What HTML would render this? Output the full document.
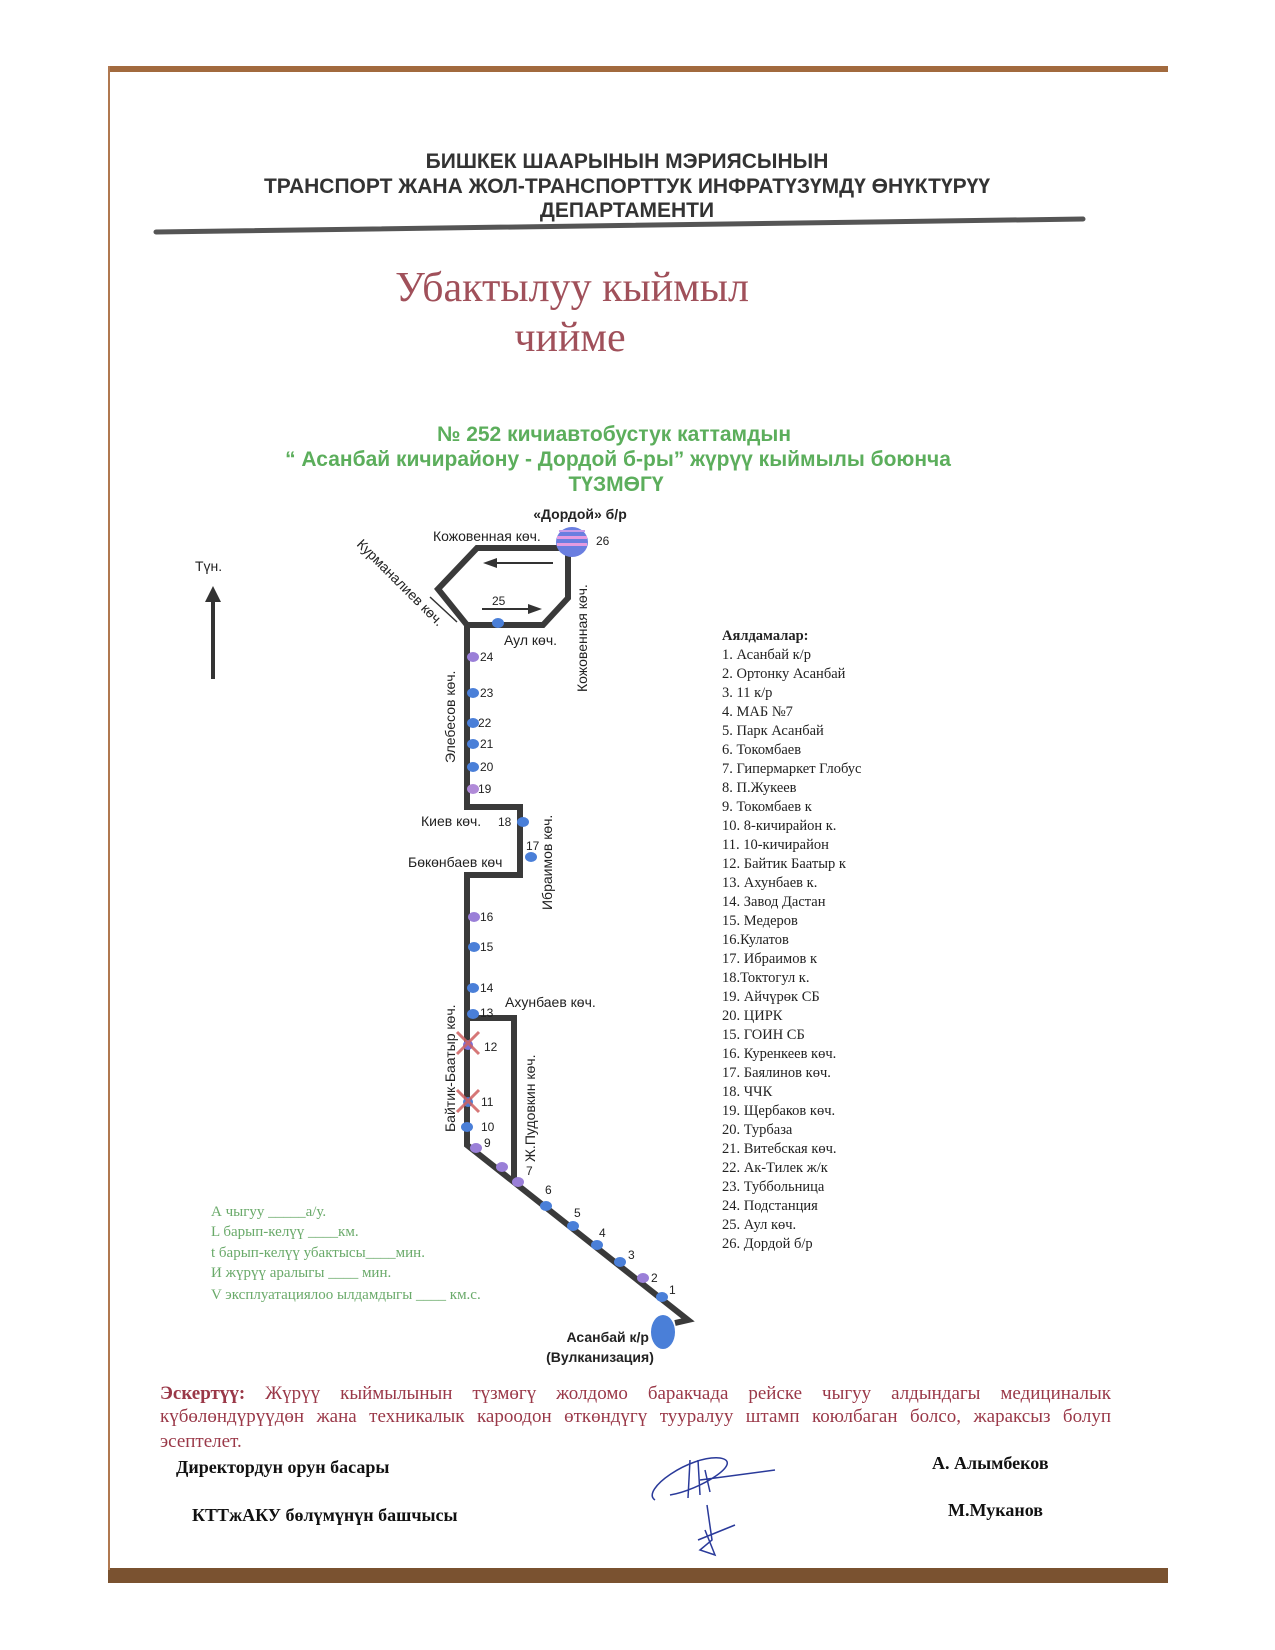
<!DOCTYPE html>
<html><head><meta charset="utf-8"><style>
html,body{margin:0;padding:0;background:#fff;}
body{position:relative;width:1275px;height:1650px;overflow:hidden}
svg{display:block;position:absolute;left:0;top:0}
.h{font-family:"Liberation Sans",sans-serif;font-size:21px;fill:#333}
.s{font-family:"Liberation Sans",sans-serif;font-size:14px;fill:#222}
.n{font-family:"Liberation Sans",sans-serif;font-size:12px;fill:#222}
.l{font-family:"Liberation Serif",serif;font-size:14.5px;fill:#222}
.g{font-family:"Liberation Sans",sans-serif;font-size:21px;font-weight:bold;fill:#5cae5c}
.gl{font-family:"Liberation Serif",serif;font-size:15px;fill:#6aaa6a}
.b{font-family:"Liberation Serif",serif;font-size:18px;font-weight:bold;fill:#111}
.nl{position:absolute;left:160px;width:951px;font-family:"Liberation Serif",serif;font-size:19px;line-height:22px;color:#9a3848;text-align:justify;text-align-last:justify;white-space:nowrap}
</style></head><body>
<svg width="1275" height="1650" viewBox="0 0 1275 1650" xmlns="http://www.w3.org/2000/svg">
<rect x="108" y="66" width="1060" height="6" fill="#a26a3e"/>
<rect x="108" y="1568" width="1060" height="15" fill="#7a5230"/>
<line x1="109" y1="66" x2="109" y2="1570" stroke="#b07850" stroke-width="2"/>

<text class="h" x="627" y="168" text-anchor="middle" font-weight="bold">БИШКЕК ШААРЫНЫН  МЭРИЯСЫНЫН</text>
<text class="h" x="627" y="193" text-anchor="middle" font-weight="bold">ТРАНСПОРТ ЖАНА ЖОЛ-ТРАНСПОРТТУК ИНФРАТҮЗҮМДҮ ӨНҮКТҮРҮҮ</text>
<text class="h" x="627" y="217" text-anchor="middle" font-weight="bold">ДЕПАРТАМЕНТИ</text>
<line x1="156" y1="232" x2="1083" y2="219" stroke="#555" stroke-width="5" stroke-linecap="round"/>

<text x="572" y="301" text-anchor="middle" font-family="Liberation Serif,serif" font-size="42" fill="#a0505a">Убактылуу кыймыл</text>
<text x="570" y="351" text-anchor="middle" font-family="Liberation Serif,serif" font-size="42" fill="#a0505a">чийме</text>

<text class="g" x="614" y="441" text-anchor="middle">№ 252  кичиавтобустук каттамдын</text>
<text class="g" x="618" y="466" text-anchor="middle">“ Асанбай кичирайону - Дордой б-ры” жүрүү кыймылы боюнча</text>
<text class="g" x="616" y="491" text-anchor="middle">ТҮЗМӨГҮ</text>

<text class="s" x="195" y="571" font-size="15">Түн.</text>
<line x1="213" y1="679" x2="213" y2="600" stroke="#333" stroke-width="4"/>
<polygon points="205,602 221,602 213,586" fill="#333"/>

<g fill="none" stroke="#3a3a3a" stroke-width="6" stroke-linejoin="miter">
<polyline points="563,548 477,548 438,589 467,625 543,625 568,598 568,553"/>
<polyline points="467,623 467,807 520,807 520,875 467,875 467,1145 688,1320 675,1323"/>
<polyline points="467,1018 514,1018 514,1180"/>
</g>
<line x1="430" y1="597" x2="457" y2="622" stroke="#333" stroke-width="1.5"/>
<line x1="553" y1="563" x2="495" y2="563" stroke="#333" stroke-width="2"/>
<polygon points="483,563 497,558 497,568" fill="#333"/>
<line x1="482" y1="609" x2="530" y2="609" stroke="#333" stroke-width="2"/>
<polygon points="542,609 528,604 528,614" fill="#333"/>
<text class="n" x="492" y="605">25</text>

<ellipse cx="572" cy="542" rx="16" ry="15" fill="#6a7ee0"/>
<rect x="557" y="536" width="30" height="3" fill="#e59be0"/>
<rect x="557" y="543" width="30" height="3" fill="#e59be0"/>
<rect x="559" y="530" width="26" height="2" fill="#c89be8"/>
<text class="s" x="580" y="519" text-anchor="middle" font-weight="bold">«Дордой» б/р</text>
<text class="n" x="596" y="545">26</text>
<text class="s" x="433" y="541">Кожовенная көч.</text>
<text class="s" x="504" y="645">Аул көч.</text>
<text class="s" transform="translate(356,545) rotate(45)">Курманалиев көч.</text>
<text class="s" transform="translate(587,692) rotate(-90)">Кожовенная көч.</text>
<text class="s" transform="translate(455,763) rotate(-90)">Элебесов көч.</text>
<text class="s" transform="translate(552,910) rotate(-90)">Ибраимов көч.</text>
<text class="s" transform="translate(455,1132) rotate(-90)">Байтик-Баатыр көч.</text>
<text class="s" transform="translate(535,1162) rotate(-90)">Ж.Пудовкин көч.</text>
<text class="s" x="421" y="826">Киев көч.</text>
<text class="s" x="408" y="867">Бөкөнбаев көч</text>
<text class="s" x="505" y="1007">Ахунбаев көч.</text>

<g fill="#4a7fd8">
<ellipse cx="498" cy="623" rx="6" ry="5"/>
<ellipse cx="473" cy="657" rx="6" ry="5" fill="#9a7fd8"/>
<ellipse cx="473" cy="693" rx="6" ry="5"/>
<ellipse cx="473" cy="723" rx="6" ry="5"/>
<ellipse cx="473" cy="744" rx="6" ry="5"/>
<ellipse cx="473" cy="767" rx="6" ry="5"/>
<ellipse cx="473" cy="789" rx="6" ry="5" fill="#b08ad8"/>
<ellipse cx="523" cy="822" rx="6" ry="5"/>
<ellipse cx="531" cy="857" rx="6" ry="5"/>
<ellipse cx="474" cy="917" rx="6" ry="5" fill="#9a7fd8"/>
<ellipse cx="474" cy="947" rx="6" ry="5"/>
<ellipse cx="473" cy="988" rx="6" ry="5"/>
<ellipse cx="473" cy="1014" rx="6" ry="5"/>
<ellipse cx="468" cy="1045" rx="5" ry="5" fill="#7a6fd8"/>
<ellipse cx="468" cy="1102" rx="5" ry="5"/>
<ellipse cx="467" cy="1127" rx="6" ry="5"/>
<ellipse cx="476" cy="1148" rx="6" ry="5" fill="#9a7fd8"/>
<ellipse cx="502" cy="1167" rx="6" ry="5" fill="#9a7fd8"/>
<ellipse cx="518" cy="1182" rx="6" ry="5" fill="#9a7fd8"/>
<ellipse cx="546" cy="1206" rx="6" ry="5"/>
<ellipse cx="573" cy="1226" rx="6" ry="5"/>
<ellipse cx="597" cy="1245" rx="6" ry="5"/>
<ellipse cx="620" cy="1262" rx="6" ry="5"/>
<ellipse cx="643" cy="1278" rx="6" ry="5" fill="#9a7fd8"/>
<ellipse cx="662" cy="1297" rx="6" ry="5"/>
<ellipse cx="663" cy="1332" rx="12" ry="17"/>
</g>
<g class="n">
<text x="480" y="661">24</text><text x="480" y="697">23</text><text x="478" y="727">22</text>
<text x="480" y="748">21</text><text x="480" y="771">20</text><text x="478" y="793">19</text>
<text x="498" y="826">18</text><text x="526" y="850">17</text>
<text x="480" y="921">16</text><text x="480" y="951">15</text><text x="480" y="992">14</text>
<text x="480" y="1017">13</text><text x="484" y="1051">12</text><text x="481" y="1106">11</text>
<text x="481" y="1131">10</text><text x="484" y="1147">9</text><text x="526" y="1175">7</text>
<text x="545" y="1194">6</text><text x="574" y="1217">5</text><text x="599" y="1237">4</text>
<text x="628" y="1259">3</text><text x="651" y="1282">2</text><text x="669" y="1294">1</text>
</g>
<g stroke="#d06060" stroke-width="3" opacity="0.85">
<line x1="457" y1="1032" x2="479" y2="1054"/><line x1="479" y1="1032" x2="457" y2="1054"/>
<line x1="457" y1="1090" x2="479" y2="1112"/><line x1="479" y1="1090" x2="457" y2="1112"/>
</g>
<text class="s" x="649" y="1342" text-anchor="end" font-weight="bold" font-size="15">Асанбай  к/р</text>
<text class="s" x="600" y="1362" text-anchor="middle" font-weight="bold" font-size="15">(Вулканизация)</text>

<g class="gl">
<text x="211" y="1216">А чыгуу   _____а/у.</text>
<text x="211" y="1236">L барып-келүү  ____км.</text>
<text x="211" y="1257">t барып-келүү убактысы____мин.</text>
<text x="211" y="1277">И жүрүү аралыгы ____    мин.</text>
<text x="211" y="1299">V эксплуатациялоо ылдамдыгы ____ км.с.</text>
</g>

<g class="l">
<text x="722" y="640" font-weight="bold">Аялдамалар:</text>
<text x="722" y="659">1. Асанбай к/р</text>
<text x="722" y="678">2. Ортонку Асанбай</text>
<text x="722" y="697">3. 11 к/р</text>
<text x="722" y="716">4. МАБ №7</text>
<text x="722" y="735">5. Парк Асанбай</text>
<text x="722" y="754">6. Токомбаев</text>
<text x="722" y="773">7. Гипермаркет Глобус</text>
<text x="722" y="792">8. П.Жукеев</text>
<text x="722" y="811">9. Токомбаев к</text>
<text x="722" y="830">10. 8-кичирайон  к.</text>
<text x="722" y="849">11. 10-кичирайон</text>
<text x="722" y="868">12.  Байтик Баатыр к</text>
<text x="722" y="887">13. Ахунбаев к.</text>
<text x="722" y="906">14. Завод Дастан</text>
<text x="722" y="925">15. Медеров</text>
<text x="722" y="944">16.Кулатов</text>
<text x="722" y="963">17. Ибраимов к</text>
<text x="722" y="982">18.Токтогул к.</text>
<text x="722" y="1001">19. Айчүрөк СБ</text>
<text x="722" y="1020">20. ЦИРК</text>
<text x="722" y="1039">15. ГОИН СБ</text>
<text x="722" y="1058">16. Куренкеев көч.</text>
<text x="722" y="1077">17. Баялинов көч.</text>
<text x="722" y="1096">18. ЧЧК</text>
<text x="722" y="1115">19. Щербаков көч.</text>
<text x="722" y="1134">20. Турбаза</text>
<text x="722" y="1153">21. Витебская көч.</text>
<text x="722" y="1172">22. Ак-Тилек ж/к</text>
<text x="722" y="1191">23. Туббольница</text>
<text x="722" y="1210">24. Подстанция</text>
<text x="722" y="1229">25. Аул көч.</text>
<text x="722" y="1248">26. Дордой б/р</text>
</g>

<text class="b" x="176" y="1473">Директордун орун басары</text>
<text class="b" x="932" y="1469">А. Алымбеков</text>
<text class="b" x="192" y="1521">КТТжАКУ  бөлүмүнүн башчысы</text>
<text class="b" x="948" y="1516">М.Муканов</text>
<g fill="none" stroke="#2a3a9a" stroke-width="1.5">
<path d="M655,1500 C640,1490 690,1455 720,1458 C745,1462 700,1490 670,1495 M690,1460 L688,1498 M698,1460 L700,1495 M705,1470 L710,1492 M700,1480 L775,1470"/>
<path d="M707,1505 L712,1540 L700,1550 L715,1555 L705,1530 M698,1540 L735,1525"/>
</g>
</svg>
<div class="nl" style="top:1383px"><b>Эскертүү:</b> Жүрүү кыймылынын түзмөгү жолдомо баракчада рейске чыгуу алдындагы медициналык</div>
<div class="nl" style="top:1406px">күбөлөндүрүүдөн жана техникалык кароодон өткөндүгү тууралуу штамп коюлбаган болсо, жараксыз болуп</div>
<div class="nl" style="top:1431px;text-align-last:left">эсептелет.</div>
</body></html>
